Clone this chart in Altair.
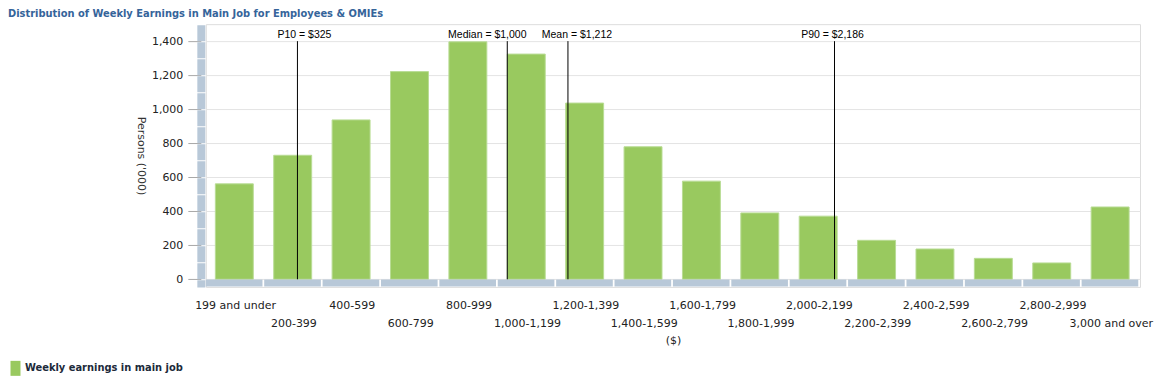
import json
import altair as alt
import pandas as pd

# ---------------- data ----------------
categories = ["199 and under", "200-399", "400-599", "600-799", "800-999",
              "1,000-1,199", "1,200-1,399", "1,400-1,599", "1,600-1,799",
              "1,800-1,999", "2,000-2,199", "2,200-2,399", "2,400-2,599",
              "2,600-2,799", "2,800-2,999", "3,000 and over"]
persons = [561, 729, 937, 1221, 1396, 1324, 1036, 779, 577, 390, 371, 229,
           178, 123, 96, 425]
series_name = "Weekly earnings in main job"
bin_width = 200

ref_labels = ["P10 = $325", "Median = $1,000", "Mean = $1,212", "P90 = $2,186"]
ref_values = [325, 1000, 1212, 2186]

y_ticks = [0, 200, 400, 600, 800, 1000, 1200, 1400]

# ---------------- style ----------------
GREEN = "#99c95f"
GREEN_EDGE = "#b9dc95"
GREY = "#b8c8d8"
GRID = "#e4e4e4"
TXT = "#222222"
FONT = "DejaVu Sans"
BOLD_FONT = "DejaVu Sans Condensed"
W, H = 935, 263
Y_MIN, Y_MAX = -45, 1500
N = len(categories)
BAR_START, BAR_END = 0.163, 0.813
SEG_END = 0.97
label_dx = {"P10 = $325": 7, "Median = $1,000": -20, "Mean = $1,212": 9, "P90 = $2,186": -2}

# white breaks in the grey y-axis band every 100 units (dash pattern)
px_per_unit = H / (Y_MAX - Y_MIN)
seg_px = 100 * px_per_unit
dash = [seg_px - 1.0, 1.0]
dash_offset = (seg_px - 1.0) - (-Y_MIN * px_per_unit - 0.5)

df = pd.DataFrame({"cat": categories, "v": persons, "series": series_name,
                   "i": list(range(N))})
ref_df = pd.DataFrame({"label": ref_labels, "v": ref_values})

x_scale = alt.Scale(domain=[0, N], nice=False, zero=False)
y_scale = alt.Scale(domain=[Y_MIN, Y_MAX], nice=False, zero=False)

arr = json.dumps(categories)
lab = f"{arr}[round(datum.value - 0.5)]"
x_axis = alt.Axis(
    title="($)", values=[k + 0.5 for k in range(N)], tickCount=N + 1,
    ticks=False, domain=False, grid=False, labelAngle=0,
    labelExpr=f"round(datum.value - 0.5) % 2 ? ['', {lab}] : {lab}",
    labelLineHeight=18, labelPadding=13, labelBaseline="top",
    labelFont=FONT, labelFontSize=11, labelColor=TXT, labelOverlap=False,
    labelFlush=False,
    titleFont=FONT, titleFontSize=11, titleFontWeight="normal", titleColor=TXT,
    titlePadding=6,
)
y_axis = alt.Axis(
    values=y_ticks, tickCount=len(y_ticks) + 1, format=",d", grid=True,
    gridColor=GRID, domain=True,
    domainColor=GREY, domainWidth=8, domainDash=dash, domainDashOffset=dash_offset,
    offset=5, tickColor="#a8a8a8", tickSize=13, labelPadding=5,
    labelOverlap=False,
    labelFont=FONT, labelFontSize=11, labelColor=TXT,
    title="Persons ('000)", titleAngle=90, titleBaseline="top",
    titleFont=FONT, titleFontSize=11,
    titleFontWeight="normal", titleColor="#333333", titlePadding=5,
)

base = alt.Chart(df)

bars = base.transform_calculate(
    b0=f"datum.i + {BAR_START}", b1=f"datum.i + {BAR_END}"
).mark_rect(stroke=GREEN_EDGE, strokeWidth=1).encode(
    x=alt.X("b0:Q", scale=x_scale, axis=x_axis),
    x2="b1:Q",
    y=alt.Y("v:Q", scale=y_scale, axis=y_axis),
    y2=alt.datum(0),
    color=alt.Color("series:N", scale=alt.Scale(range=[GREEN]),
                    legend=alt.Legend(
                        orient="none", legendX=-198, legendY=337, title=None,
                        symbolType="M-0.667,-1H0.667V1H-0.667Z", symbolSize=225,
                        symbolStrokeWidth=0, labelFont=BOLD_FONT, labelFontSize=11,
                        labelFontWeight="bold", labelColor="#1c2a3a", labelOffset=2)),
)

segments = base.transform_calculate(
    s0="datum.i", s1=f"datum.i + {SEG_END}"
).mark_rect(color=GREY).encode(
    x=alt.X("s0:Q", scale=x_scale, axis=x_axis),
    x2="s1:Q",
    y=alt.datum(-2),
    y2=alt.datum(-43),
)

ref_base = alt.Chart(ref_df).transform_calculate(
    i=f"min(floor(datum.v / {bin_width}), {N - 1})"
).transform_calculate(
    pos=f"datum.i + {BAR_START} + {BAR_END - BAR_START}*(datum.v - {bin_width}*datum.i)/{bin_width}"
)
rules = ref_base.mark_rule(color="black", strokeWidth=1).encode(
    x=alt.X("pos:Q", scale=x_scale, axis=x_axis),
    y=alt.datum(1400), y2=alt.datum(0),
)
texts = [
    ref_base.transform_filter(alt.datum.label == lbl).mark_text(
        font="Liberation Sans", fontSize=10.5, color="black",
        baseline="alphabetic", align="center", dy=-3, dx=label_dx[lbl]
    ).encode(
        x=alt.X("pos:Q", scale=x_scale, axis=x_axis),
        y=alt.datum(1400),
        text="label:N",
    )
    for lbl in ref_labels
]

chart = alt.layer(bars, segments, rules, *texts).properties(
    width=W, height=H,
    autosize=alt.AutoSizeParams(type="none"),
    padding={"left": 198, "top": 16, "right": 16, "bottom": 89},
    title=alt.TitleParams(
        "Distribution of Weekly Earnings in Main Job for Employees & OMIEs",
        anchor="start", frame="group", dx=-198, offset=5,
        font=BOLD_FONT, fontSize=11, fontWeight="bold", color="#35649a",
    ),
).configure_view(stroke=None).configure(background="white")

chart.save("out.html", embed_options={"renderer": "svg", "actions": False})
